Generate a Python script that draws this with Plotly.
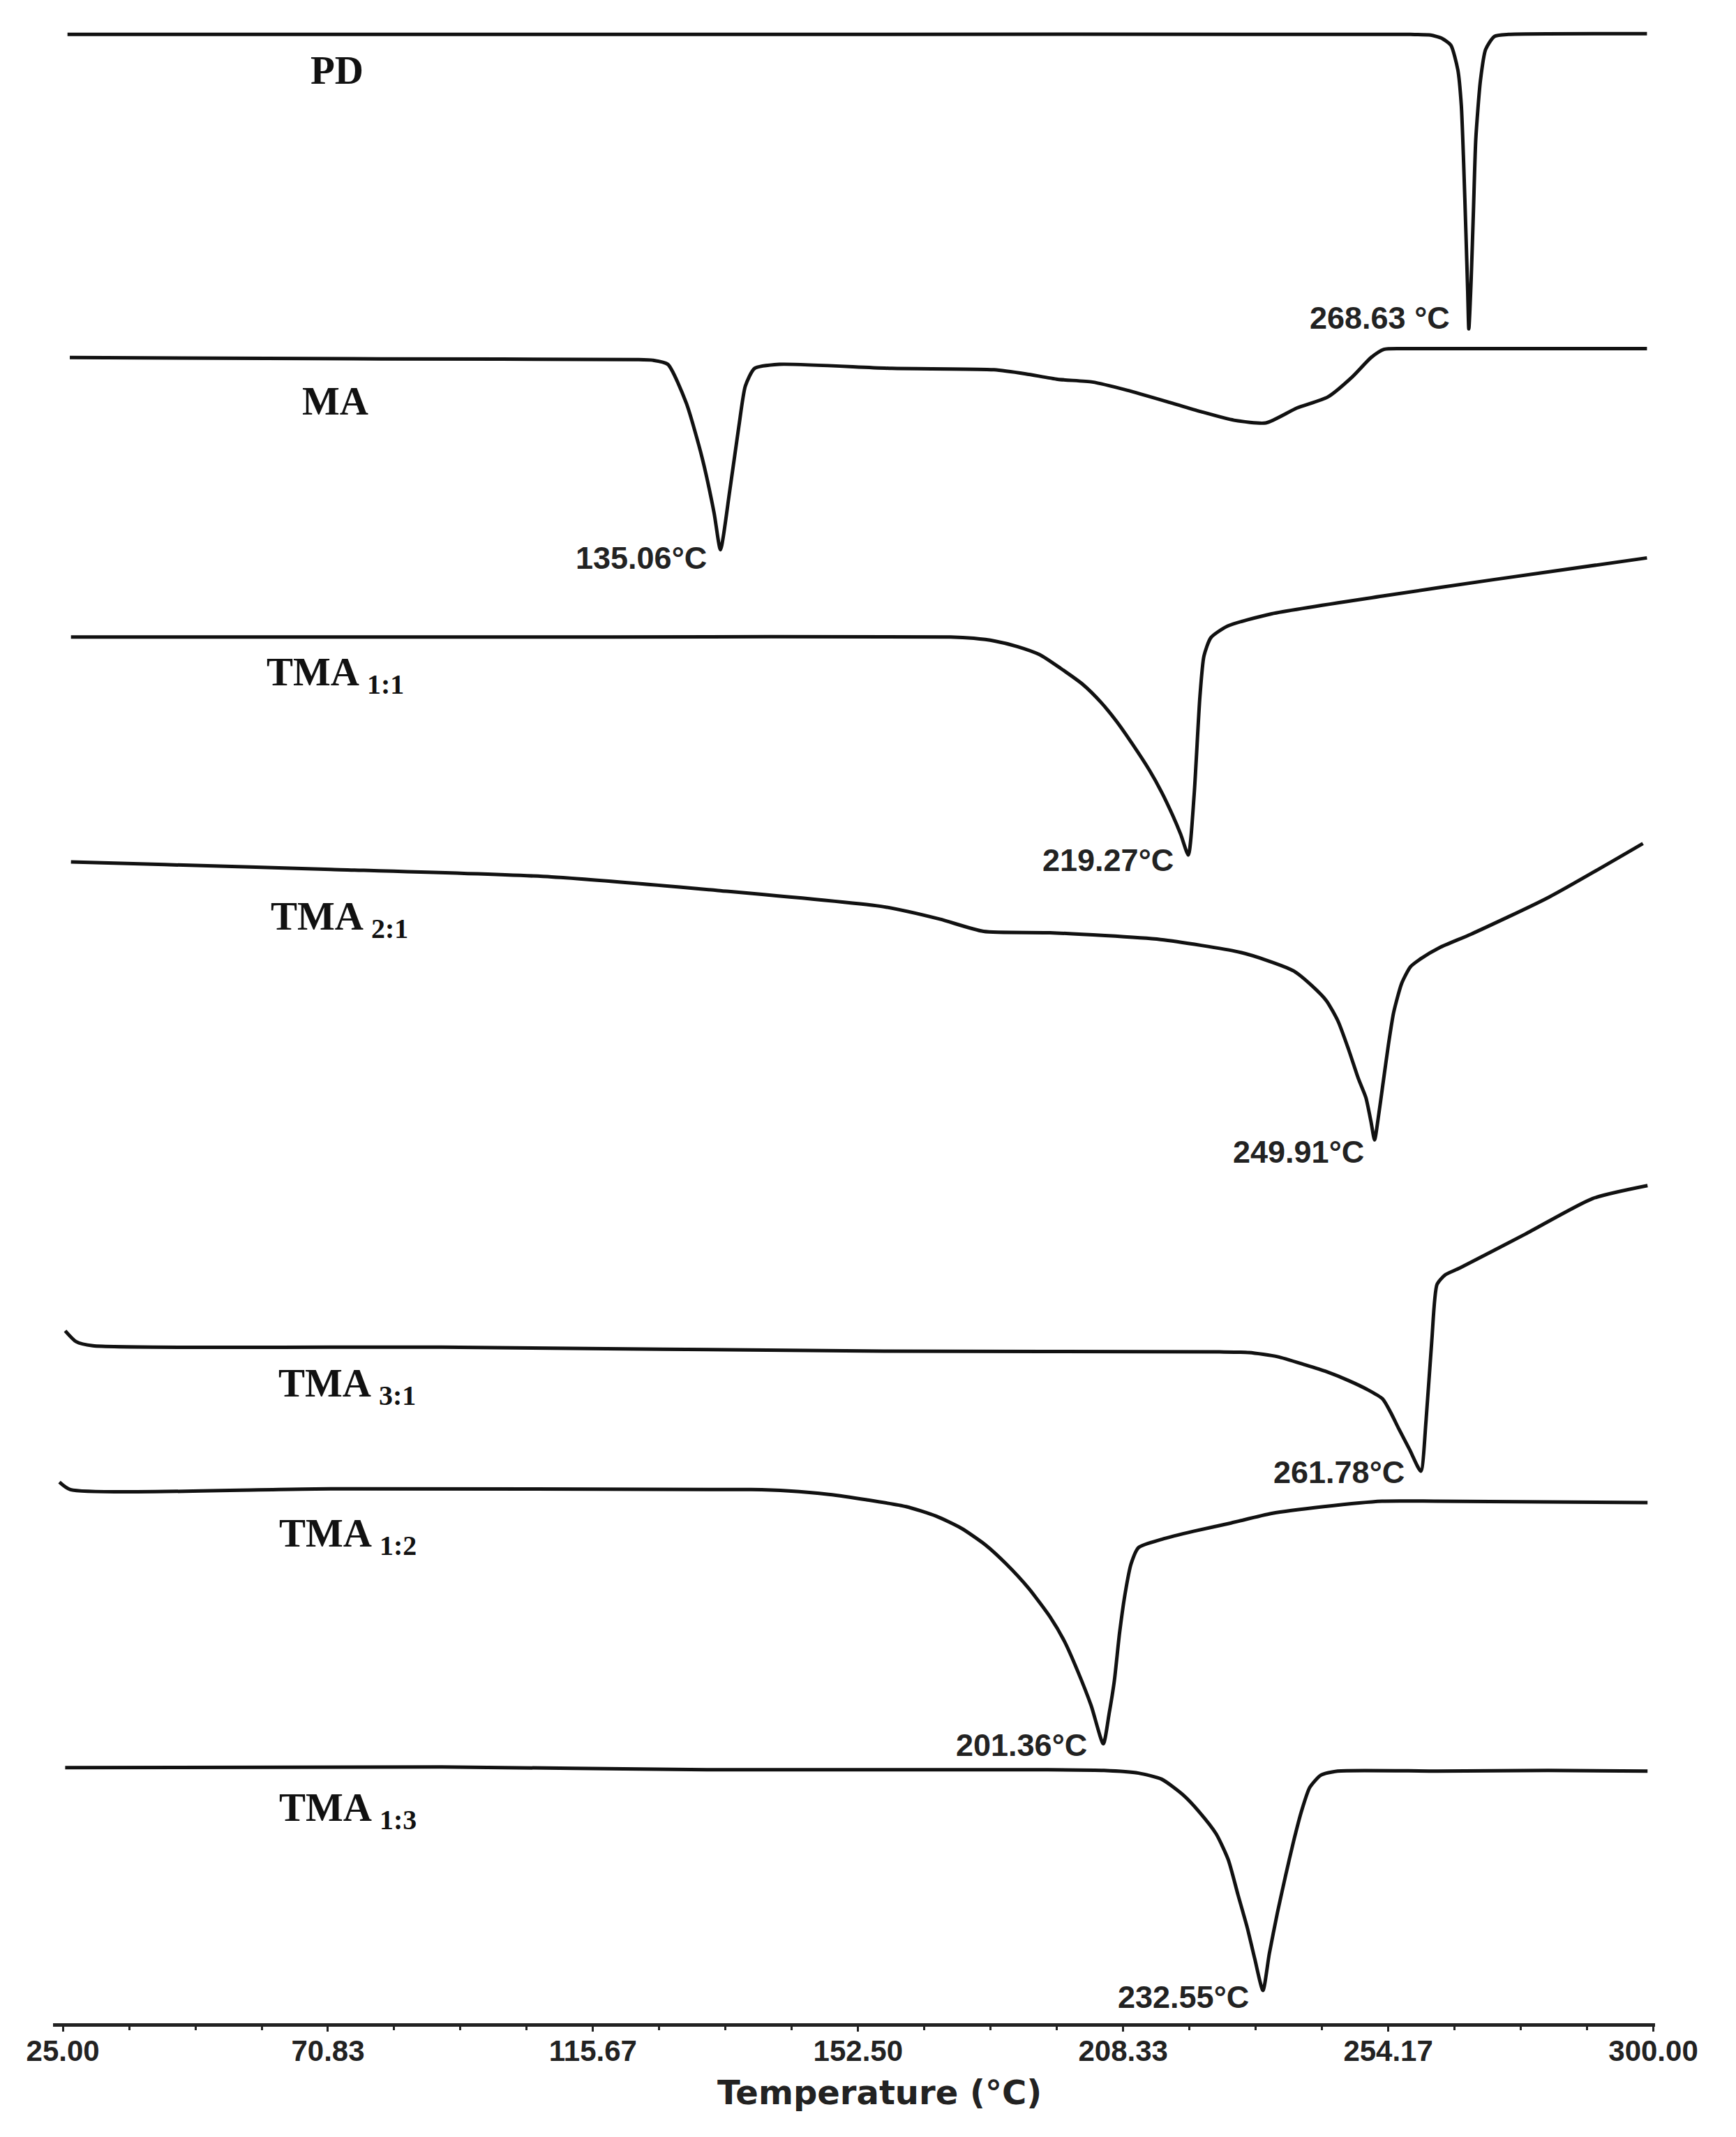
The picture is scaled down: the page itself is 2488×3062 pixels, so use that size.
import plotly.graph_objects as go

# ---- data (temperature in °C, stacked heat-flow in arbitrary units) ----
pd_T = [25.8, 150.0, 258.0, 261.5, 263.5, 265.0, 266.2, 266.8, 267.2, 267.6, 267.9, 268.1, 268.5, 268.9, 269.3,
        270.1, 271.0, 272.5, 275.0, 298.9]
pd_y = [146.6, 146.6, 146.6, 146.55, 146.3, 145.8, 144.0, 141.4, 137.2, 132.0, 127.8, 125.0, 128.6, 133.7, 138.9,
        143.2, 145.5, 146.45, 146.6, 146.65]

ma_T = [26.2, 80.0, 124.0, 127.0, 129.6, 132.8, 135.5, 137.6, 138.7, 140.3, 141.9, 143.0, 144.6, 148.9, 168.3,
        186.0, 191.5, 197.0, 203.0, 209.0, 216.8, 222.0, 227.5, 233.0, 238.4, 243.7, 248.0, 251.2, 253.4, 258.0, 298.9]
ma_y = [122.9, 122.8, 122.75, 122.7, 122.4, 119.55, 115.6, 111.5, 108.8, 113.1, 117.9, 120.8, 122.1, 122.4, 122.1,
        122.0, 121.7, 121.3, 121.1, 120.5, 119.55, 118.9, 118.3, 118.1, 119.2, 120.0, 121.5, 122.9, 123.5, 123.55, 123.55]

tma11_T = [26.4, 120.0, 178.5, 182.5, 186.1, 190.0, 193.9, 197.5, 201.4, 204.5, 207.2, 210.0, 212.9, 215.0, 216.8,
           218.3, 219.6, 220.6, 221.6, 222.3, 223.5, 226.4, 234.0, 253.2, 272.3, 298.9]
tma11_y = [102.4, 102.4, 102.4, 102.3, 102.1, 101.7, 101.1, 100.1, 98.9, 97.6, 96.2, 94.5, 92.6, 91.0, 89.4,
           87.9, 86.4, 90.8, 98.0, 101.0, 102.35, 103.2, 104.1, 105.4, 106.6, 108.2]

tma21_T = [26.4, 42.6, 71.3, 109.5, 138.3, 167.0, 176.6, 184.2, 195.7, 214.8, 228.2, 233.0, 237.8, 241.0, 243.5,
           245.5, 247.3, 249.0, 250.3, 251.2, 251.8, 252.5, 253.2, 254.2, 255.1, 256.5, 258.0, 259.8, 263.0,
           268.5, 281.9, 298.2]
tma21_y = [85.9, 85.7, 85.35, 84.8, 83.8, 82.6, 81.7, 80.8, 80.7, 80.2, 79.3, 78.7, 77.9, 76.8, 75.7,
           74.2, 72.15, 70.0, 68.6, 66.8, 65.5, 67.3, 69.45, 72.5, 74.85, 77.0, 78.2, 78.8, 79.6,
           80.6, 83.3, 87.25]

tma31_T = [25.4, 27.3, 30.2, 90.5, 167.0, 225.0, 230.1, 235.0, 239.8, 243.5, 247.3, 250.5, 253.2, 254.6, 256.0,
           257.9, 259.8, 260.7, 261.7, 262.6, 264.0, 266.5, 277.9, 289.5, 299.0]
tma31_y = [51.5, 50.7, 50.4, 50.3, 50.0, 49.95, 49.9, 49.6, 49.0, 48.5, 47.85, 47.2, 46.5, 45.5, 44.3,
           42.75, 41.2, 44.9, 50.8, 54.9, 55.6, 56.1, 58.6, 61.2, 62.15]

tma12_T = [24.4, 26.3, 71.3, 144.0, 150.5, 157.4, 164.0, 170.8, 176.0, 180.4, 184.5, 188.1, 192.0, 195.7, 198.2,
           200.4, 202.8, 204.9, 205.9, 206.8, 207.7, 208.7, 209.7, 211.0, 215.0, 220.6, 227.0, 234.0, 243.0, 253.1,
           262.6, 299.0]
tma12_y = [40.4, 39.85, 39.9, 39.85, 39.75, 39.5, 39.1, 38.6, 37.9, 37.0, 35.8, 34.4, 32.6, 30.5, 28.7,
           26.6, 24.0, 21.2, 23.4, 25.8, 29.3, 32.3, 34.4, 35.6, 36.2, 36.8, 37.4, 38.1, 38.6, 39.0,
           39.0, 38.9]

tma13_T = [25.4, 90.5, 136.4, 193.8, 205.0, 211.0, 215.0, 218.7, 221.5, 224.4, 226.5, 228.2, 229.8, 231.1, 232.5,
           233.6, 235.0, 236.4, 237.8, 239.2, 240.6, 242.5, 245.4, 262.7, 281.8, 299.0]
tma13_y = [19.45, 19.5, 19.3, 19.3, 19.25, 19.05, 18.6, 17.45, 16.2, 14.6, 12.7, 10.1, 7.7, 5.4, 3.1,
           5.8, 8.8, 11.5, 14.05, 16.3, 18.0, 18.9, 19.2, 19.2, 19.25, 19.2]

series_names = ["PD", "MA", "TMA 1:1", "TMA 2:1", "TMA 3:1", "TMA 1:2", "TMA 1:3"]
series_T = [pd_T, ma_T, tma11_T, tma21_T, tma31_T, tma12_T, tma13_T]
series_y = [pd_y, ma_y, tma11_y, tma21_y, tma31_y, tma12_y, tma13_y]

# sample labels: text, left x (°C), y
sample_text = ["PD", "MA", "TMA <sub>1:1</sub>", "TMA <sub>2:1</sub>", "TMA <sub>3:1</sub>",
               "TMA <sub>1:2</sub>", "TMA <sub>1:3</sub>"]
sample_x = [67.6, 66.1, 60.0, 60.7, 62.0, 62.2, 62.2]
sample_y = [144.0, 119.7, 99.6, 81.7, 47.45, 36.45, 16.3]

# peak labels: text, right x (°C), y
peak_text = ["268.63 °C", "135.06°C", "219.27°C", "249.91°C", "261.78°C", "201.36°C", "232.55°C"]
peak_x = [265.1, 136.6, 217.3, 250.2, 257.2, 202.3, 230.3]
peak_y = [125.8, 108.2, 86.0, 64.6, 41.1, 21.1, 2.6]

tick_vals = [25.0, 70.8333, 116.6667, 162.5, 208.3333, 254.1667, 300.0]
tick_text = ["25.00", "70.83", "115.67", "152.50", "208.33", "254.17", "300.00"]
x_title = "Temperature (°C)"

fig = go.Figure()
for name, T, y in zip(series_names, series_T, series_y):
    fig.add_trace(go.Scatter(x=T, y=y, mode="lines", name=name,
                             line=dict(color="#111111", width=5, shape="spline", smoothing=0.6),
                             showlegend=False, hoverinfo="skip"))

for t, x, y in zip(sample_text, sample_x, sample_y):
    fig.add_annotation(x=x, y=y, text=t, showarrow=False, xanchor="left", yanchor="middle",
                       font=dict(family="Liberation Serif", size=57, color="#111111", weight="bold"))

for t, x, y in zip(peak_text, peak_x, peak_y):
    fig.add_annotation(x=x, y=y, text=t, showarrow=False, xanchor="right", yanchor="middle",
                       font=dict(family="Liberation Sans", size=45, color="#222222", weight="bold"))

# axis title placed as a paper-referenced annotation
fig.add_annotation(x=0.5157, y=-0.0344, xref="paper", yref="paper", text=x_title, showarrow=False,
                   xanchor="center", yanchor="middle",
                   font=dict(family="DejaVu Sans", size=48, color="#222222", weight="bold"))

fig.update_layout(
    width=2488, height=3062,
    margin=dict(l=68, r=124, t=14, b=171),
    paper_bgcolor="white", plot_bgcolor="white",
    xaxis=dict(range=[23.3, 300.3], tickmode="array", tickvals=tick_vals, ticktext=tick_text,
               showline=True, linewidth=5, linecolor="#222222", ticks="outside", ticklen=7, tickwidth=3,
               tickcolor="#222222", showgrid=False, zeroline=False,
               tickfont=dict(family="Liberation Sans", size=42, color="#222222", weight="bold"),
               minor=dict(tick0=25, dtick=275 / 24, ticks="outside", ticklen=5, tickwidth=3, tickcolor="#222222")),
    yaxis=dict(range=[0.7, 148], visible=False, showgrid=False, zeroline=False),
)
try:
    fig.update_xaxes(ticklabelstandoff=-8)
except Exception:
    pass

fig.write_html("out.html")
